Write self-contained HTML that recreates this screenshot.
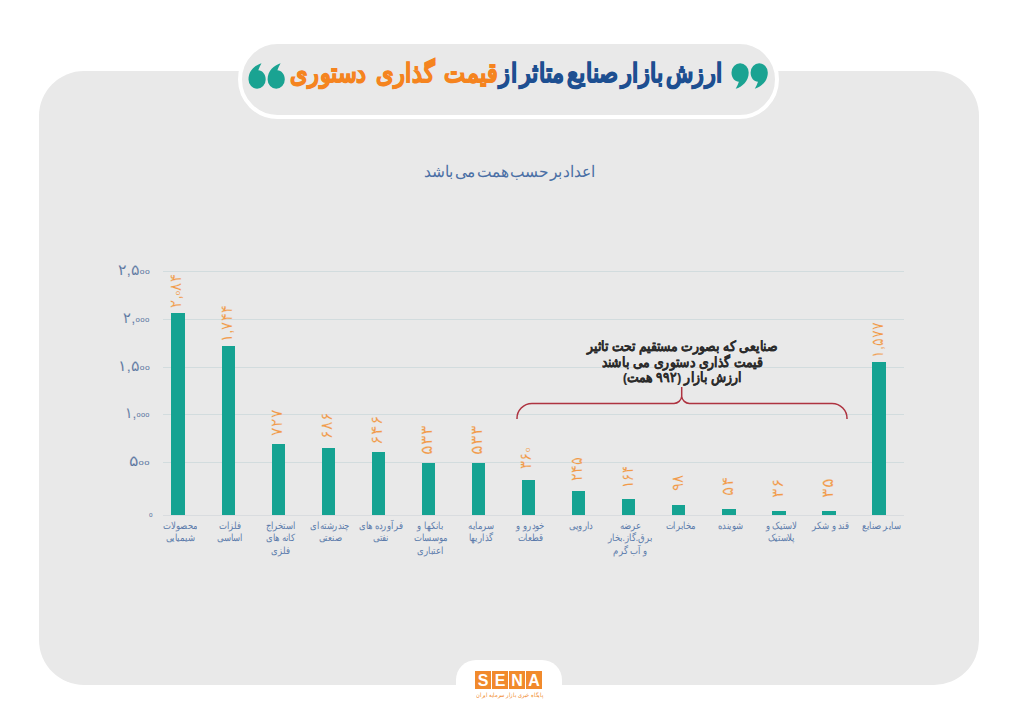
<!DOCTYPE html>
<html><head><meta charset="utf-8">
<style>
html,body{margin:0;padding:0}
body{width:1018px;height:720px;position:relative;overflow:hidden;background:#fff;font-family:"Liberation Sans",sans-serif}
.abs{position:absolute;left:0;top:0}
.t{display:inline-block}
.panel{position:absolute;left:39px;top:71px;width:940px;height:614px;background:#e9e9e9;border-radius:45px}
.pill{position:absolute;left:238px;top:40px;width:541px;height:79px;box-sizing:border-box;background:#e9e9e9;border:4px solid #fff;border-radius:40px}
.title{position:absolute;left:100px;top:52.5px;width:623px;height:40px;direction:rtl;white-space:nowrap;font-weight:bold;font-size:24px;line-height:40px;color:#1d4f91;text-align:right;word-spacing:-4px;-webkit-text-stroke:1.0px currentColor}
.title .t{transform-origin:100% 50%}
.title .or{color:#f5841f;word-spacing:3px}
.sub{position:absolute;left:420px;top:160px;width:180px;direction:rtl;text-align:center;font-size:15.5px;line-height:24px;color:#4a6fa5;white-space:nowrap;word-spacing:-3px}
.gl{position:absolute;left:163px;width:741px;height:1px;background:#d2dcde}
.base{position:absolute;left:163px;width:741px;top:514.6px;height:1px;background:#d9dcdf}
.yl{position:absolute;left:80px;width:69.5px;text-align:right;font-size:15px;line-height:16px;color:#53709c;white-space:nowrap;-webkit-text-stroke:0.15px #e9e9e9}
.yl .t{transform-origin:100% 50%}
.z{font-size:8px;display:inline-block;vertical-align:1.5px;margin:0 .2px;-webkit-text-stroke:0}
.bar{position:absolute;width:13.3px;background:#15a392}
.vl{position:absolute;transform-origin:0 0;transform:rotate(-90deg) translateY(-50%);font-size:16px;line-height:16px;color:#f29a48;white-space:nowrap;-webkit-text-stroke:0.15px #e9e9e9}
.vl .t{transform-origin:0 50%;vertical-align:top}
.xl{position:absolute;top:520px;width:80px;text-align:center;direction:rtl;font-size:10px;line-height:12.3px;color:#5b7bab;white-space:nowrap}
.xl .t{transform-origin:50% 0}
.ann{position:absolute;left:532px;top:339px;width:300px;text-align:center;direction:rtl;font-weight:bold;font-size:13.5px;line-height:15.5px;color:#2b2b2b;white-space:nowrap;-webkit-text-stroke:0.2px currentColor}
.tab{position:absolute;left:456px;top:660px;width:106px;height:80px;background:#fff;border-radius:20px}
.sena{position:absolute;top:671px;height:18px;width:16.2px;background:#f18a2c;color:#fff;font-size:16px;line-height:20px;text-align:center;font-weight:bold}
.senasub{position:absolute;left:459.5px;top:691.5px;width:100px;height:7px;direction:rtl;font-size:6px;line-height:7px;color:#f18a2c;white-space:nowrap;text-align:center}

</style></head><body>
<div class="panel"></div>
<div class="pill"></div>
<svg class="abs" width="1018" height="720"><g fill="#1aa392">
<path transform="translate(248.5 63.2)" d="M13 0C6.5 2 0 7.5 0 16.3A8.6 9.2 0 0 0 17.2 16.3C17.2 10.8 13.8 7.2 9.8 7C10.6 4.6 11.6 2.2 13 0Z"/>
<path transform="translate(267.6 63.2)" d="M13 0C6.5 2 0 7.5 0 16.3A8.6 9.2 0 0 0 17.2 16.3C17.2 10.8 13.8 7.2 9.8 7C10.6 4.6 11.6 2.2 13 0Z"/>
<path transform="translate(748.7 88.7) rotate(180)" d="M13 0C6.5 2 0 7.5 0 16.3A8.6 9.2 0 0 0 17.2 16.3C17.2 10.8 13.8 7.2 9.8 7C10.6 4.6 11.6 2.2 13 0Z"/>
<path transform="translate(767.8 88.7) rotate(180)" d="M13 0C6.5 2 0 7.5 0 16.3A8.6 9.2 0 0 0 17.2 16.3C17.2 10.8 13.8 7.2 9.8 7C10.6 4.6 11.6 2.2 13 0Z"/>
</g></svg>
<div class="title"><span class="t" style="--w:432.8;--sy:1.1;transform:scale(0.8000,1.1)">ارزش بازار صنایع متاثر از <span class="or">قیمت گذاری دستوری</span></span></div>
<div class="sub"><span class="t" style="--w:171;transform:scale(0.9716,1)">اعداد بر حسب همت می باشد</span></div>
<div class="gl" style="top:270.5px"></div>
<div class="gl" style="top:318.5px"></div>
<div class="gl" style="top:366.5px"></div>
<div class="gl" style="top:413.7px"></div>
<div class="gl" style="top:461.7px"></div>
<div class="yl" style="top:262.0px"><span class="t" style="--w:31.9;transform:scale(1.1000,1)">۲,۵<span class="z">o</span><span class="z">o</span></span></div>
<div class="yl" style="top:310.0px"><span class="t" style="--w:26.5;transform:scale(1.0600,1)">۲,<span class="z">o</span><span class="z">o</span><span class="z">o</span></span></div>
<div class="yl" style="top:358.0px"><span class="t" style="--w:31.9;transform:scale(1.1000,1)">۱,۵<span class="z">o</span><span class="z">o</span></span></div>
<div class="yl" style="top:405.2px"><span class="t" style="--w:25.0;transform:scale(1.0000,1)">۱,<span class="z">o</span><span class="z">o</span><span class="z">o</span></span></div>
<div class="yl" style="top:453.2px"><span class="t" style="--w:21.25;transform:scale(1.2500,1)">۵<span class="z">o</span><span class="z">o</span></span></div>
<div class="yl" style="top:505px;left:83px"><span class="t" style="--w:4.0;transform:scale(1.0000,1)"><span class="z">o</span></span></div>
<div class="base"></div>
<svg class="abs" width="1018" height="720"><path d="M517 419a15 15 0 0 1 15-15.5H674a8 8 0 0 0 7.7-7V387V396.5a8 8 0 0 0 7.7 7H832a15 15 0 0 1 15 15.5" fill="none" stroke="#ae3340" stroke-width="1.5"/></svg>
<div class="bar" style="left:171.45px;top:312.9px;height:201.7px"></div>
<div class="bar" style="left:221.52px;top:345.8px;height:168.8px"></div>
<div class="bar" style="left:271.59px;top:444.2px;height:70.4px"></div>
<div class="bar" style="left:321.66px;top:448.2px;height:66.4px"></div>
<div class="bar" style="left:371.73px;top:452.1px;height:62.5px"></div>
<div class="bar" style="left:421.80px;top:463.0px;height:51.6px"></div>
<div class="bar" style="left:471.87px;top:463.0px;height:51.6px"></div>
<div class="bar" style="left:521.94px;top:479.8px;height:34.8px"></div>
<div class="bar" style="left:572.01px;top:490.9px;height:23.7px"></div>
<div class="bar" style="left:622.08px;top:498.7px;height:15.9px"></div>
<div class="bar" style="left:672.15px;top:505.1px;height:9.5px"></div>
<div class="bar" style="left:722.22px;top:509.4px;height:5.2px"></div>
<div class="bar" style="left:772.29px;top:511.1px;height:3.5px"></div>
<div class="bar" style="left:822.36px;top:511.2px;height:3.4px"></div>
<div class="bar" style="left:872.43px;top:361.9px;height:152.7px"></div>
<div class="vl" style="left:176.8px;top:307.5px"><span class="t" style="--w:33.95;transform:scale(0.9700,1)">۲,<span class="z">o</span>۸۴</span></div>
<div class="vl" style="left:226.9px;top:342.2px"><span class="t" style="--w:36.8;transform:scale(0.9200,1)">۱,۷۴۴</span></div>
<div class="vl" style="left:277.0px;top:435.9px"><span class="t" style="--w:26.46;transform:scale(0.9800,1)">۷۲۷</span></div>
<div class="vl" style="left:327.1px;top:439.3px"><span class="t" style="--w:27.0;transform:scale(1.0000,1)">۶۸۶</span></div>
<div class="vl" style="left:377.1px;top:444.9px"><span class="t" style="--w:29.43;transform:scale(1.0900,1)">۶۴۶</span></div>
<div class="vl" style="left:427.2px;top:455.1px"><span class="t" style="--w:30.24;transform:scale(1.1200,1)">۵۳۳</span></div>
<div class="vl" style="left:477.3px;top:455.1px"><span class="t" style="--w:30.24;transform:scale(1.1200,1)">۵۳۳</span></div>
<div class="vl" style="left:527.3px;top:468.8px"><span class="t" style="--w:21.56;transform:scale(0.9800,1)">۳۶<span class="z">o</span></span></div>
<div class="vl" style="left:577.4px;top:481.1px"><span class="t" style="--w:24.3;transform:scale(0.9000,1)">۲۴۵</span></div>
<div class="vl" style="left:627.5px;top:488.0px"><span class="t" style="--w:21.87;transform:scale(0.8100,1)">۱۶۴</span></div>
<div class="vl" style="left:677.5px;top:491.0px"><span class="t" style="--w:16.74;transform:scale(0.9300,1)">۹۸</span></div>
<div class="vl" style="left:727.6px;top:496.1px"><span class="t" style="--w:19.26;transform:scale(1.0700,1)">۵۴</span></div>
<div class="vl" style="left:777.7px;top:498.0px"><span class="t" style="--w:19.8;transform:scale(1.1000,1)">۳۶</span></div>
<div class="vl" style="left:827.8px;top:498.0px"><span class="t" style="--w:20.16;transform:scale(1.1200,1)">۳۵</span></div>
<div class="vl" style="left:877.8px;top:358.0px"><span class="t" style="--w:35.6;transform:scale(0.8900,1)">۱,۵۷۷</span></div>
<div class="xl" style="left:140.1px"><span class="t" style="--w:34.0;transform:scale(0.8500,1)">محصولات<br>شیمیایی</span></div>
<div class="xl" style="left:190.2px"><span class="t" style="--w:25.5;transform:scale(0.8500,1)">فلزات<br>اساسی</span></div>
<div class="xl" style="left:240.2px"><span class="t" style="--w:29.75;transform:scale(0.8500,1)">استخراج<br>کانه های<br>فلزی</span></div>
<div class="xl" style="left:290.3px"><span class="t" style="--w:39.1;transform:scale(0.8500,1)">چندرشته‌ای<br>صنعتی</span></div>
<div class="xl" style="left:340.4px"><span class="t" style="--w:44.2;transform:scale(0.8500,1)">فرآورده های<br>نفتی</span></div>
<div class="xl" style="left:390.4px"><span class="t" style="--w:33.15;transform:scale(0.8500,1)">بانکها و<br>موسسات<br>اعتباری</span></div>
<div class="xl" style="left:440.5px"><span class="t" style="--w:25.5;transform:scale(0.8500,1)">سرمایه<br>گذاریها</span></div>
<div class="xl" style="left:490.6px"><span class="t" style="--w:28.05;transform:scale(0.8500,1)">خودرو و<br>قطعات</span></div>
<div class="xl" style="left:540.7px"><span class="t" style="--w:23.8;transform:scale(0.8500,1)">دارویی</span></div>
<div class="xl" style="left:590.7px"><span class="t" style="--w:45.05;transform:scale(0.8500,1)">عرضه<br>برق.گاز.بخار<br>و آب گرم</span></div>
<div class="xl" style="left:640.8px"><span class="t" style="--w:29.75;transform:scale(0.8500,1)">مخابرات</span></div>
<div class="xl" style="left:690.9px"><span class="t" style="--w:24.65;transform:scale(0.8500,1)">شوینده</span></div>
<div class="xl" style="left:740.9px"><span class="t" style="--w:31.45;transform:scale(0.8500,1)">لاستیک و<br>پلاستیک</span></div>
<div class="xl" style="left:791.0px"><span class="t" style="--w:37.4;transform:scale(0.8500,1)">قند و شکر</span></div>
<div class="xl" style="left:841.1px"><span class="t" style="--w:38.25;transform:scale(0.8500,1)">سایر صنایع</span></div>
<div class="ann"><span class="t" style="--w:190.5;transform:scale(0.7500,1)">صنایعی که بصورت مستقیم تحت تاثیر<br>قیمت گذاری دستوری می باشند<br>ارزش بازار (۹۹۲ همت)</span></div>
<div class="tab"></div>
<div class="sena" style="left:475px">S</div>
<div class="sena" style="left:492px">E</div>
<div class="sena" style="left:509px">N</div>
<div class="sena" style="left:526px">A</div>
<div class="senasub"><span class="t" style="--w:67.15;transform:scale(0.8500,1)">پایگاه خبری بازار سرمایه ایران</span></div>
<script>
(function(){var a=document.querySelectorAll('.t');for(var i=0;i<a.length;i++){var e=a[i];var w=parseFloat(e.style.getPropertyValue('--w'))||0;var sy=parseFloat(e.style.getPropertyValue('--sy'))||1;var n=e.offsetWidth;if(w>0&&n>0){e.style.transform='scale('+(w/n)+','+sy+')';}else if(sy!=1){e.style.transform='scale(1,'+sy+')';}}})();
</script>
</body></html>
